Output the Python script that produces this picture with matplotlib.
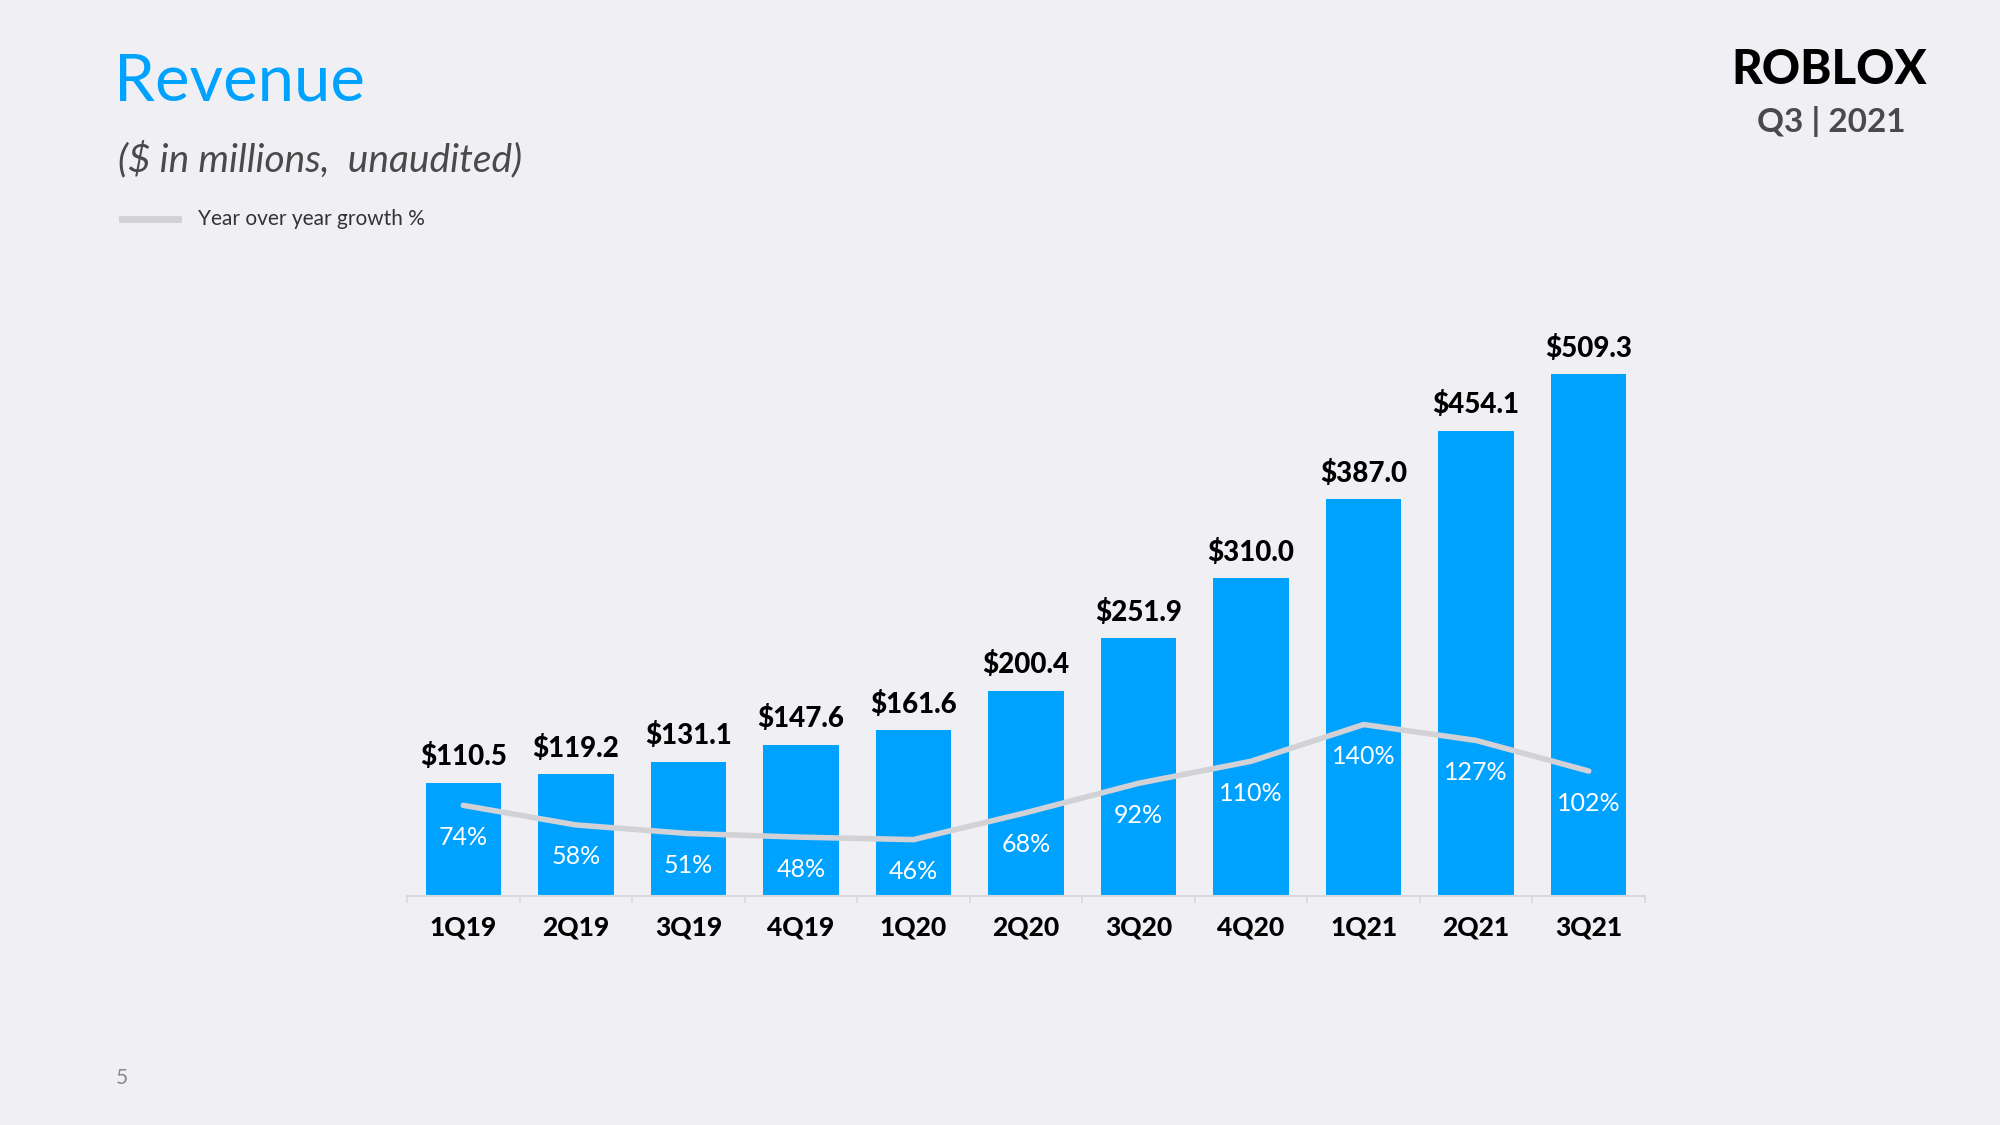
#!/usr/bin/env python3
"""Roblox quarterly revenue chart (Q3 2021 deck, slide 5)"""

import matplotlib.pyplot as plt
import numpy

quarters = ["1Q19", "2Q19", "3Q19", "4Q19", "1Q20", "2Q20",
            "3Q20", "4Q20", "1Q21", "2Q21", "3Q21"]
revenue = [110.5, 119.2, 131.1, 147.6, 161.6, 200.4,
           251.9, 310.0, 387.0, 454.1, 509.3]
yoy_growth = [74, 58, 51, 48, 46, 68, 92, 110, 140, 127, 102]

BG = "#F0F0F4"
BLUE = "#00A2FF"
LINE_GRAY = "#D2D2D6"
DARK = "#4A4A4A"

plt.rcParams["font.family"] = ["Lato", "DejaVu Sans"]


def main() -> None:
    fig = plt.figure(figsize=(20, 11.25), dpi=100, facecolor=BG)
    ax = fig.add_axes([0.2035, 0.2036, 0.619, 0.5])
    ax.set_facecolor("none")
    x = numpy.arange(len(quarters))

    bars = ax.bar(x, revenue, width=0.67, color=BLUE, zorder=2)
    ax.set_xlim(-0.5, len(quarters) - 0.5)
    ax.set_ylim(0, 548.8)

    for rect, val in zip(bars, revenue):
        ax.annotate(f"${val:.1f}", (rect.get_x() + rect.get_width() / 2, val),
                    xytext=(0, 18.5), textcoords="offset points",
                    ha="center", va="center", fontsize=20, fontweight="black",
                    color="black")

    # axis line and boundary ticks
    for side in ("top", "right", "left"):
        ax.spines[side].set_visible(False)
    ax.spines["bottom"].set_color("#D9D9DD")
    ax.spines["bottom"].set_linewidth(1.5)
    ax.set_yticks([])
    ax.set_xticks(x)
    ax.set_xticklabels(quarters, fontsize=19, fontweight="black")
    ax.tick_params(axis="x", which="major", length=0, pad=14)
    ax.set_xticks(numpy.arange(-0.5, len(quarters)), minor=True)
    ax.tick_params(axis="x", which="minor", length=5, width=1.2, color="#D9D9DD")

    # growth line on its own scale
    ax2 = ax.twinx()
    ax2.set_ylim(0, 459.4)
    ax2.axis("off")
    ax2.plot(x, yoy_growth, color=LINE_GRAY, linewidth=4, zorder=3,
             solid_capstyle="round")
    for xi, pct in zip(x, yoy_growth):
        ax2.annotate(f"{pct}%", (xi, pct), xytext=(0, -23),
                     textcoords="offset points", ha="center", va="center",
                     fontsize=18, color="white")

    # header
    fig.text(0.057, 0.911, "Revenue", fontsize=47, color=BLUE, va="baseline")
    fig.text(0.059, 0.848, "($ in millions,  unaudited)", fontsize=28,
             style="italic", color=DARK, va="baseline")
    fig.add_artist(plt.Line2D([0.061, 0.089], [0.8053, 0.8053], color=LINE_GRAY,
                              linewidth=5, transform=fig.transFigure))
    fig.text(0.099, 0.8053, "Year over year growth %", fontsize=15,
             color="#333333", va="center")

    fig.text(0.9145, 0.938, "ROBLOX", fontsize=34, fontweight="black",
             color="black", ha="center", va="center")
    fig.text(0.9155, 0.892, "Q3 | 2021", fontsize=24, fontweight="bold",
             color=DARK, ha="center", va="center")
    fig.text(0.058, 0.0415, "5", fontsize=15, color="#8A8A8A", va="center")

    fig.savefig("out.png", facecolor=BG)


if __name__ == "__main__":
    main()
